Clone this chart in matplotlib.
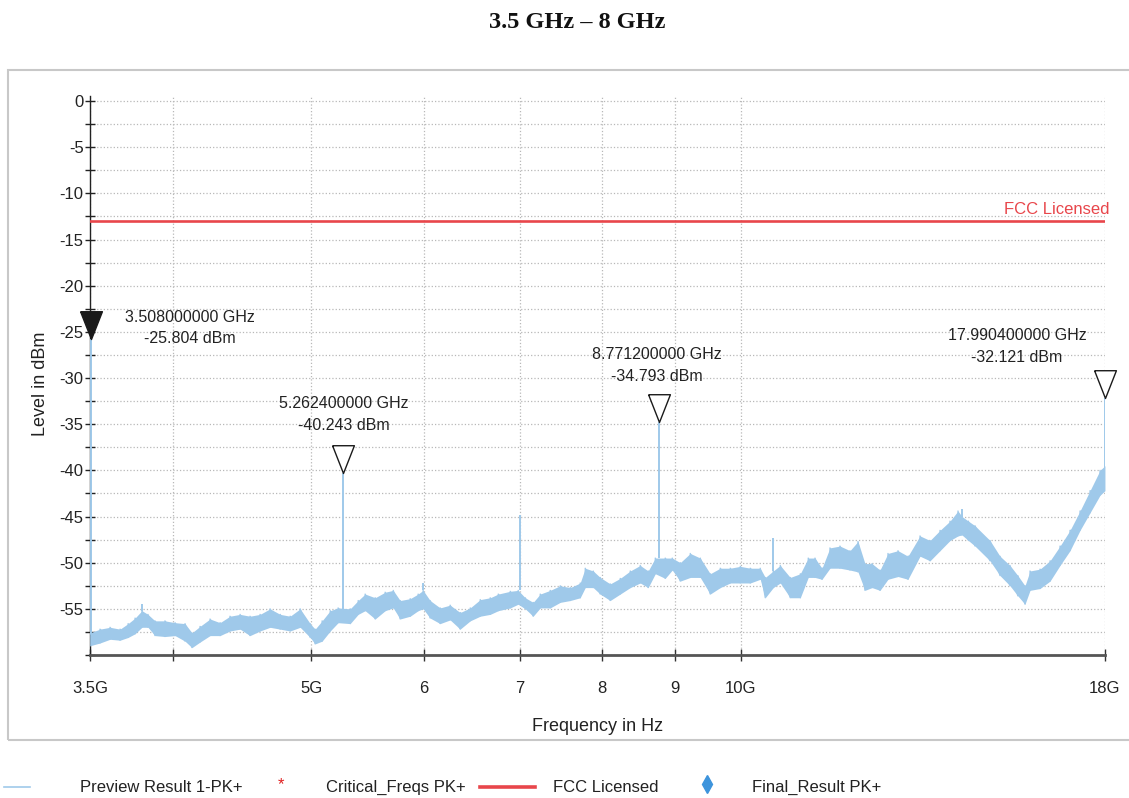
import numpy as np
import matplotlib.pyplot as plt
from matplotlib.lines import Line2D
from matplotlib.patches import Rectangle
from matplotlib.ticker import FixedLocator, NullLocator, MultipleLocator

plt.rcParams['font.family'] = ['Liberation Sans', 'DejaVu Sans']
plt.rcParams['axes.unicode_minus'] = False

# Preview trace (peak detector), band limits per frequency step, GHz / dBm
freq_ghz = [3.50, 3.557, 3.615, 3.674, 3.722, 3.764, 3.806, 3.843, 3.887, 3.950,
            4.015, 4.080, 4.126, 4.180, 4.248, 4.317, 4.387, 4.459, 4.531, 4.605,
            4.680, 4.757, 4.834, 4.913, 4.993, 5.033, 5.090, 5.157, 5.223, 5.326,
            5.395, 5.456, 5.545, 5.635, 5.709, 5.773, 5.867, 5.943, 5.991, 6.059,
            6.158, 6.258, 6.360, 6.464, 6.569, 6.676, 6.763, 6.895, 6.984, 7.064,
            7.155, 7.237, 7.354, 7.474, 7.596, 7.719, 7.782, 7.883, 7.972, 8.102,
            8.234, 8.368, 8.504, 8.614, 8.713, 8.854, 8.955, 9.071, 9.219, 9.369,
            9.521, 9.676, 9.834, 9.994, 10.156, 10.321, 10.405, 10.540, 10.660, 10.833,
            11.010, 11.152, 11.274, 11.402, 11.550, 11.738, 11.929, 12.084, 12.221, 12.360,
            12.521, 12.683, 12.890, 13.099, 13.356, 13.573, 13.794, 14.018, 14.20, 14.292,
            14.44, 14.595, 14.953, 15.196, 15.443, 15.64, 15.821, 15.950, 16.209, 16.473,
            16.741, 17.013, 17.290, 17.571, 17.857, 18.0]
level_lo = [-59.0, -58.7, -58.3, -58.4, -58.1, -57.7, -57.0, -57.0, -57.9, -58.0,
            -57.9, -58.5, -59.2, -58.6, -57.9, -57.9, -57.4, -57.2, -57.9, -57.4,
            -57.0, -57.2, -57.4, -57.0, -58.1, -58.8, -58.5, -57.4, -56.5, -56.6,
            -55.6, -55.2, -56.1, -55.2, -54.9, -56.1, -55.8, -55.2, -55.0, -56.0,
            -56.6, -56.2, -57.2, -56.3, -55.8, -55.6, -55.2, -54.9, -54.5, -55.0,
            -55.8, -54.9, -54.9, -54.3, -54.1, -53.8, -52.7, -52.7, -53.4, -54.1,
            -53.4, -52.7, -52.2, -52.7, -51.2, -51.7, -50.8, -52.0, -51.6, -51.6,
            -53.4, -52.7, -52.2, -52.2, -52.2, -51.8, -53.8, -52.7, -52.2, -53.8,
            -53.8, -51.6, -51.6, -51.8, -50.6, -50.6, -50.8, -51.0, -53.0, -52.7,
            -53.0, -51.8, -51.5, -51.8, -49.3, -49.8, -48.7, -47.6, -47.1, -47.0,
            -47.6, -48.2, -49.8, -51.4, -52.5, -53.6, -54.5, -53.0, -52.8, -52.0,
            -50.3, -48.7, -46.5, -44.6, -42.7, -42.2]
level_hi = [-57.6, -57.2, -57.0, -57.2, -56.6, -56.0, -55.2, -55.6, -56.3, -56.3,
            -56.5, -56.6, -57.6, -56.9, -56.1, -56.5, -55.8, -55.6, -55.8, -55.6,
            -55.0, -55.6, -55.8, -55.0, -56.6, -57.2, -56.3, -55.2, -54.9, -55.0,
            -54.1, -53.4, -53.8, -53.2, -53.0, -54.1, -53.9, -53.4, -53.0, -54.1,
            -54.9, -54.6, -55.4, -54.9, -54.0, -53.8, -53.4, -53.1, -53.0, -53.8,
            -54.3, -53.4, -53.0, -52.5, -52.7, -52.2, -50.6, -50.9, -51.6, -52.3,
            -51.7, -50.9, -50.3, -50.9, -49.5, -49.5, -49.5, -50.0, -49.0, -49.5,
            -51.2, -50.6, -50.6, -50.4, -50.6, -50.6, -51.6, -50.9, -50.3, -51.6,
            -51.2, -49.5, -49.5, -50.6, -48.4, -48.2, -48.7, -47.7, -50.1, -50.1,
            -50.8, -49.0, -48.7, -49.3, -47.1, -47.6, -46.5, -45.5, -44.4, -45.0,
            -45.5, -46.0, -47.6, -49.3, -50.3, -51.4, -52.5, -50.9, -50.7, -49.8,
            -48.2, -46.5, -44.4, -42.2, -40.0, -39.5]

# Narrow spurs rising out of the noise floor
spur_ghz = [3.508, 3.806, 5.2624, 5.991, 7.0, 8.7712, 10.54, 14.292, 17.9904]
spur_base = [-57.6, -55.2, -55.0, -53.0, -53.0, -49.5, -50.9, -45.0, -40.0]
spur_peak = [-25.804, -54.5, -40.243, -52.2, -44.8, -34.793, -47.3, -44.2, -32.121]

# Marked peaks
peak_ghz = [3.508, 5.2624, 8.7712, 17.9904]
peak_dbm = [-25.804, -40.243, -34.793, -32.121]
peak_text_offset = [(71, 8), (1, 42), (-2, 41), (-63, 37)]  # points

limit_dbm = -13.0

xticks = [3.5, 4, 5, 6, 7, 8, 9, 10, 18]
xtick_labels = ['3.5G', '', '5G', '6', '7', '8', '9', '10G', '18G']

trace_color = '#9fc9ea'
limit_color = '#e8464b'

fig = plt.figure(figsize=(11.29, 7.98), dpi=100)
ax = fig.add_axes([0.0797, 0.1792, 0.899, 0.700])

# outer frame around the diagram
fig.add_artist(Rectangle((8 / 1129, 1 - 740 / 798), 1.2, (740 - 70) / 798,
                         transform=fig.transFigure, fill=False,
                         edgecolor='#c8c8c8', lw=1.5))

ax.fill_between(freq_ghz, level_lo, level_hi, color=trace_color, lw=0, zorder=3)
# zig-zag between band edges for the noisy look of the sweep
zz_f = np.repeat(freq_ghz, 2)
zz_lv = np.column_stack([level_lo, level_hi]).ravel()
ax.plot(zz_f, zz_lv, color=trace_color, lw=0.9, zorder=3)
ax.vlines(spur_ghz, spur_base, spur_peak, color=trace_color, lw=1.4, zorder=3)

ax.axhline(limit_dbm, xmin=0, xmax=1, color=limit_color, lw=1.9, zorder=4)
ax.annotate('FCC Licensed', xy=(18.0, limit_dbm), xytext=(3.5, 3),
            textcoords='offset points', ha='right', va='bottom',
            color=limit_color, fontsize=12, annotation_clip=False)

# peak markers: first one active (filled), others hollow
tri = [(-11, 28), (11, 28), (0, 0), (-11, 28)]
for i, (f, lv) in enumerate(zip(peak_ghz, peak_dbm)):
    face = '#1a1a1a' if i == 0 else 'white'
    ax.plot([f], [lv], marker=tri, markersize=40, markerfacecolor=face,
            markeredgecolor='#1a1a1a', markeredgewidth=1.0, linestyle='none',
            zorder=6, clip_on=False)
    ax.annotate(f'{f:.9f} GHz\n{lv:.3f} dBm', xy=(f, lv),
                xytext=peak_text_offset[i], textcoords='offset points',
                ha='center', va='center', multialignment='center',
                linespacing=1.55, fontsize=11.5, color='#222222', zorder=7)

ax.set_xscale('log')
ax.set_xlim(3.5, 18)
ax.set_ylim(-60, 0.5)
ax.xaxis.set_major_locator(FixedLocator(xticks))
ax.xaxis.set_minor_locator(NullLocator())
ax.set_xticklabels(xtick_labels)
ax.yaxis.set_major_locator(FixedLocator([0, -5, -10, -15, -20, -25, -30, -35, -40, -45, -50, -55]))
ax.yaxis.set_minor_locator(MultipleLocator(2.5))

ax.grid(True, which='both', axis='y', color='#b8b8b8', linestyle=':', lw=0.9)
ax.grid(True, which='major', axis='x', color='#b8b8b8', linestyle=':', lw=0.9)

for s in ['top', 'right']:
    ax.spines[s].set_visible(False)
ax.spines['left'].set_color('#222222')
ax.spines['left'].set_linewidth(1.0)
ax.spines['bottom'].set_color('#555555')
ax.spines['bottom'].set_linewidth(2.0)

ax.tick_params(axis='y', which='both', direction='inout', length=7, width=1.0,
               color='#222222', labelsize=12, labelcolor='#222222', pad=1)
ax.tick_params(axis='x', which='major', direction='inout', length=9, width=1.0,
               color='#333333', labelsize=12, labelcolor='#222222', pad=14)

ax.set_xlabel('Frequency in Hz', fontsize=13, color='#222222')
ax.xaxis.set_label_coords(0.5, -0.112)
ax.set_ylabel('Level in dBm', fontsize=13, color='#222222')
ax.yaxis.set_label_coords(-0.040, 0.485)

fig.text(577 / 1129, 1 - 22 / 798, '3.5 GHz – 8 GHz', ha='center', va='center',
         fontsize=17.5, fontweight='bold', family='Liberation Serif', color='#111111')

# legend row below the frame
ly = 1 - 787 / 798
fig.add_artist(Line2D([4 / 1129, 30 / 1129], [ly, ly], color=trace_color, lw=1.2))
fig.text(281 / 1129, ly + 0.012, '*', ha='center', va='top', fontsize=12,
         color='#e02020')
fig.add_artist(Line2D([480 / 1129, 535 / 1129], [ly, ly], color=limit_color, lw=2.6))
fig.add_artist(Line2D([707 / 1129], [ly + 0.004], marker='d', color='#3d94dc',
                      markersize=9, linestyle='none'))
legend_names = ['Preview Result 1-PK+', 'Critical_Freqs PK+', 'FCC Licensed', 'Final_Result PK+']
legend_x = [80, 326, 553, 752]
for name, x in zip(legend_names, legend_x):
    fig.text(x / 1129, ly, name, ha='left', va='center', fontsize=12, color='#222222')

plt.savefig('out.png', dpi=100)
